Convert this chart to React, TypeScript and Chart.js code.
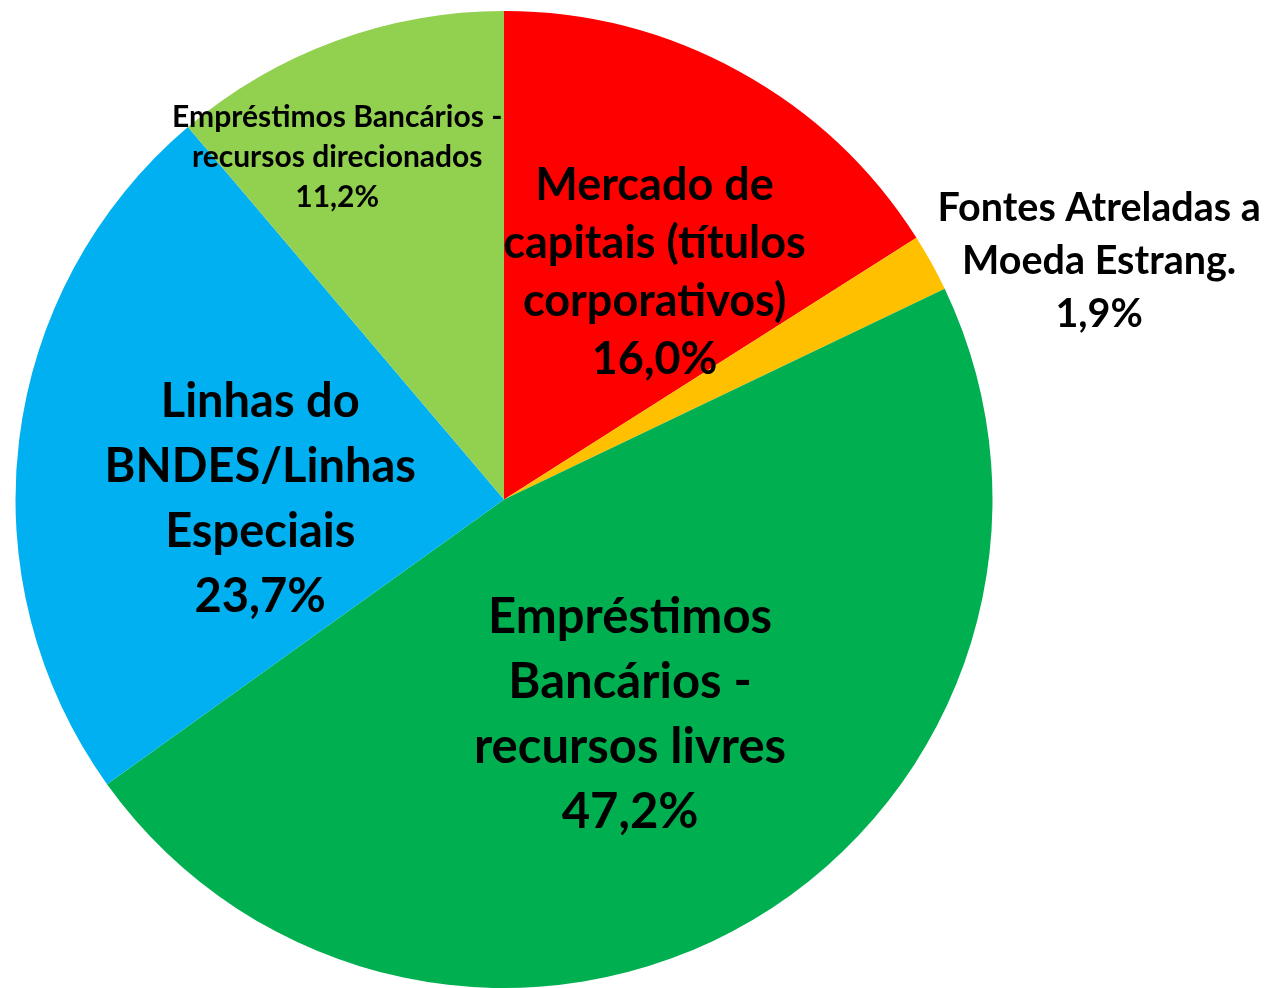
import React, { useEffect, useRef } from "react";
import { Chart, registerables } from "chart.js";

Chart.register(...registerables);

const categories: string[][] = [
  ["Mercado de", "capitais (títulos", "corporativos)"],
  ["Fontes Atreladas a", "Moeda Estrang."],
  ["Empréstimos", "Bancários -", "recursos livres"],
  ["Linhas do", "BNDES/Linhas", "Especiais"],
  ["Empréstimos Bancários -", "recursos direcionados"],
];
const values: number[] = [16.0, 1.9, 47.2, 23.7, 11.2];
const valueLabels: string[] = ["16,0%", "1,9%", "47,2%", "23,7%", "11,2%"];
const colors: string[] = ["#FF0000", "#FFC000", "#00B050", "#00B0F0", "#92D050"];

// label layout: angular offset from slice mid (deg), radial fraction, font px, line height px
const labelAngleOffset: number[] = [4.8, 7.2, 0.2, -7, -5.8];
const labelRadiusFrac: number[] = [0.557, 1.312, 0.51, 0.499, 0.78];
const labelFontSize: number[] = [45, 39.5, 49, 47, 30];
const labelLineHeight: number[] = [58, 53, 65, 65, 40];

const FONT = "Lato, 'Open Sans', sans-serif";

const labelPlugin = {
  id: "sliceLabels",
  afterDatasetsDraw(chart: any) {
    const ctx = chart.ctx;
    const meta = chart.getDatasetMeta(0);
    meta.data.forEach((arc: any, i: number) => {
      const mid = (arc.startAngle + arc.endAngle) / 2 + (labelAngleOffset[i] * Math.PI) / 180;
      const r = labelRadiusFrac[i] * arc.outerRadius;
      const cx = arc.x + Math.cos(mid) * r;
      const cy = arc.y + Math.sin(mid) * r;
      const lines = [...categories[i], valueLabels[i]];
      const lh = labelLineHeight[i];
      const top = cy - ((lines.length - 1) * lh) / 2;
      ctx.save();
      ctx.fillStyle = "#000000";
      ctx.font = `bold ${labelFontSize[i]}px ${FONT}`;
      ctx.textAlign = "center";
      ctx.textBaseline = "middle";
      lines.forEach((line, j) => ctx.fillText(line, cx, top + j * lh));
      ctx.restore();
    });
  },
};

export default function App() {
  const ref = useRef<HTMLCanvasElement | null>(null);
  useEffect(() => {
    if (!ref.current) return;
    const chart = new Chart(ref.current, {
      type: "pie",
      data: {
        labels: categories.map((c) => c.join(" ")),
        datasets: [
          {
            data: values,
            backgroundColor: colors,
            borderWidth: 0,
            hoverOffset: 0,
          },
        ],
      },
      options: {
        animation: false,
        responsive: true,
        maintainAspectRatio: false,
        layout: { padding: { left: 15, right: 273, top: 11, bottom: 0 } },
        plugins: {
          legend: { display: false },
          tooltip: { enabled: false },
          title: { display: false },
        },
      },
      plugins: [labelPlugin],
    });
    return () => chart.destroy();
  }, []);
  return (
    <div style={{ position: "fixed", left: 0, top: 0, width: 1266, height: 988, background: "#ffffff" }}>
      <canvas ref={ref} />
    </div>
  );
}
